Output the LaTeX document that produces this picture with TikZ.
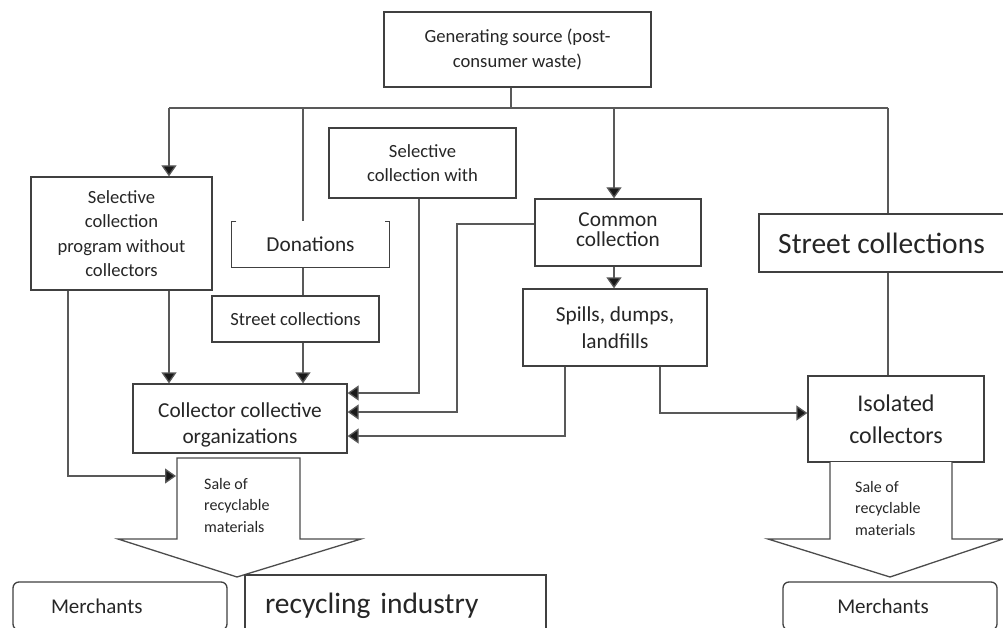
\documentclass[tikz,border=0pt]{standalone}
\usepackage{fontspec}
\setmainfont{Carlito}
\usetikzlibrary{arrows.meta}
\tikzset{
  ln/.style={draw=black!65, line width=1.3pt},
  arr/.style={ln, -{Triangle[width=15pt,length=11pt,fill=black!90]}},
  box/.style={draw=black!75, line width=1.3pt, inner sep=0pt, align=center, text=black!85, fill=white},
  rbox/.style={box, rounded corners=6pt},
  fA/.style={font=\fontsize{18.6}{24.5}\selectfont},
  fB/.style={font=\fontsize{21.3}{27}\selectfont},
  fC/.style={font=\fontsize{29.5}{34}\selectfont},
  fS/.style={font=\fontsize{16}{21.5}\selectfont, text=black!85, align=left, inner sep=0pt},
}
\begin{document}
\begin{tikzpicture}[x=1pt,y=-1pt]
\fill[white] (0,0) rectangle (1003,628);
\clip (0,0) rectangle (1003,628);

% boxes
\node[box,fA,minimum width=267pt,minimum height=75pt] (gen) at (517.5,49.5) {Generating source (post-\\consumer waste)};
\node[box,fA,minimum width=181pt,minimum height=113pt] (selA) at (121.5,233.5) {Selective\\collection\\program without\\collectors};
\node[box,fA,minimum width=187pt,minimum height=70pt] (selW) at (422.5,163) {Selective\\collection with};
\node[box,fB,minimum width=157pt,minimum height=45pt,draw=none] (don) at (310.5,244.5) {Donations};
\node[box,fA,minimum width=167pt,minimum height=46pt] (st1) at (295.5,319) {Street collections};
\node[box,fB,minimum width=166pt,minimum height=67pt] (com) at (618,232.5) {\raisebox{5pt}{Common}\\[-7pt]\raisebox{5pt}{collection}};
\node[box,fB,minimum width=184pt,minimum height=77pt] (spl) at (615,327.5) {Spills, dumps,\\landfills};
\node[box,fC,minimum width=251pt,minimum height=58pt] (st2) at (884.5,243) {Street collections\hspace*{6pt}};
\node[box,minimum width=214pt,minimum height=69pt] (col) at (240,418.5) {};
\node[fB,align=center,inner sep=0pt,text=black!85] (colt) at (240,425) {Collector collective\\[-1pt]organizations};
\node[box,font=\fontsize{24}{32}\selectfont,minimum width=176pt,minimum height=86pt] (iso) at (896,419) {Isolated\\collectors};

% donations box: sides, bottom and corner ticks only
\draw[black!75, line width=1.3pt] ([xshift=5pt]don.north west) -- (don.north west) -- (don.south west) -- (don.south east) -- (don.north east) -- ([xshift=-5pt]don.north east);

% big arrows
\draw[black!70, line width=1.3pt, fill=white] (177,458) -- (177,539) -- (118,539) -- (237,577) -- (361,539) -- (300,539) -- (300,458) -- cycle;
\draw[black!70, line width=1.3pt, fill=white] (830,462) -- (830,539) -- (768,539) -- (890,577) -- (1003,539) -- (952,539) -- (952,462);
\node[fS, anchor=west] (sale1) at (204,505) {Sale of\\recyclable\\materials};
\node[fS, anchor=west] (sale2) at (855,508) {Sale of\\recyclable\\materials};

% bottom boxes
\node[rbox,font=\fontsize{21}{25}\selectfont,minimum width=214pt,minimum height=48pt,text width=214pt,align=left] (mer1) at (120,606) {\hspace*{38pt}Merchants};
\node[box,fC,minimum width=301pt,minimum height=62pt,text width=301pt,align=left] (rec) at (395.5,606) {\hspace*{20pt}recycling industry};
\node[rbox,font=\fontsize{21}{25}\selectfont,minimum width=214pt,minimum height=48pt] (mer2) at (890,606) {Merchants\hspace*{14pt}};

% trunk
\coordinate (j) at (511,108);
\coordinate (tA) at (169,108);
\coordinate (tD) at (303,108);
\coordinate (tC) at (614,108);
\coordinate (tS) at (888,108);
\draw[ln] (gen.south -| j) -- (j);
\draw[ln] (tA) -- (tS);
\draw[arr] (tA) -- (tA |- selA.north);
\draw[ln] (tD) -- (tD |- don.north);
\draw[ln] (tD |- don.south) -- (tD |- st1.north);
\draw[arr] (tD |- st1.south) -- (tD |- col.north);
\draw[arr] (tC) -- (tC |- com.north);
\draw[arr] (tC |- com.south) -- (tC |- spl.north);
\draw[ln] (tS) -- (tS |- st2.north);
\draw[ln] (tS |- st2.south) -- (tS |- iso.north);

% from selective without
\coordinate (a1) at (68,290);
\coordinate (a2) at (176,476);
\draw[arr] (tA |- selA.south) -- (tA |- col.north);
\draw[arr] (a1 |- selA.south) -- (a1 |- a2) -- (a2);

% into collector organisations
\coordinate (b1) at (419,393);
\coordinate (b2) at (457,412);
\coordinate (b3) at (565,436);
\coordinate (b4) at (660,413);
\draw[arr] (b1 |- selW.south) -- (b1) -- (b1 -| col.east);
\draw[arr] (com.west |- 0,224) -- (b2 |- 0,224) -- (b2) -- (b2 -| col.east);
\draw[arr] (b3 |- spl.south) -- (b3) -- (b3 -| col.east);
\draw[arr] (b4 |- spl.south) -- (b4) -- (b4 -| iso.west);
\end{tikzpicture}
\end{document}
